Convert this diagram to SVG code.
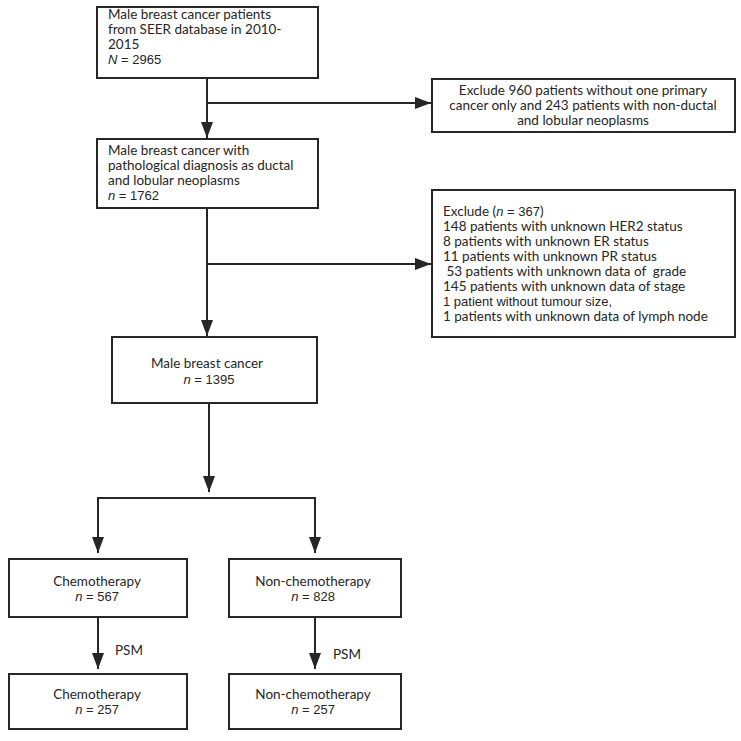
<svg xmlns="http://www.w3.org/2000/svg" width="741" height="741" viewBox="0 0 741 741">
<defs>
<marker id="ar" markerWidth="16" markerHeight="12" refX="16" refY="6" orient="auto" markerUnits="userSpaceOnUse" viewBox="0 0 16 12">
<path d="M0,0 L16,6 L0,12 Z" fill="#262626"/>
</marker>
</defs>
<style>
.box{fill:#fff;stroke:#262626;stroke-width:2}
.ln{fill:none;stroke:#262626;stroke-width:2}
text{font-family:Lato,"Noto Sans",sans-serif;font-size:13.5px;fill:#262626;white-space:pre}
.a{font-family:"Liberation Sans",Arial,sans-serif;font-size:13px}
.i{font-family:"Liberation Sans",Arial,sans-serif;font-size:13px;font-style:italic}
.c{text-anchor:middle}
</style>
<rect width="741" height="741" fill="#fff"/>
<g id="connectors">
<path class="ln" d="M207,78 V138" marker-end="url(#ar)"/>
<path class="ln" d="M207,103 H431" marker-end="url(#ar)"/>
<path class="ln" d="M207,208 V336" marker-end="url(#ar)"/>
<path class="ln" d="M207,264 H431" marker-end="url(#ar)"/>
<path class="ln" d="M209,403 V492" marker-end="url(#ar)"/>
<path class="ln" d="M98,498 H315"/>
<path class="ln" d="M98,497 V553" marker-end="url(#ar)"/>
<path class="ln" d="M315,497 V553" marker-end="url(#ar)"/>
<path class="ln" d="M98,617 V669" marker-end="url(#ar)"/>
<path class="ln" d="M315,617 V669" marker-end="url(#ar)"/>
<text x="115" y="655">PSM</text>
<text x="333" y="659">PSM</text>
</g>
<g id="n1">
<rect class="box" x="97" y="7" width="221" height="71"/>
<text x="108" y="19">Male breast cancer patients</text>
<text x="108" y="34">from SEER database in 2010-</text>
<text x="108" y="49">2015</text>
<text class="a" x="108" y="64"><tspan class="i">N</tspan> = 2965</text>
</g>
<g id="ex1">
<rect class="box" x="432" y="79" width="303" height="53"/>
<text class="c" x="583" y="95">Exclude 960 patients without one primary</text>
<text class="c" x="583" y="110">cancer only and 243 patients with non-ductal</text>
<text class="c" x="583" y="125">and lobular neoplasms</text>
</g>
<g id="n2">
<rect class="box" x="97" y="139" width="221" height="69"/>
<text x="108" y="155">Male breast cancer with</text>
<text x="108" y="170">pathological diagnosis as ductal</text>
<text x="108" y="185">and lobular neoplasms</text>
<text class="a" x="108" y="200"><tspan class="i">n</tspan> = 1762</text>
</g>
<g id="ex2">
<rect class="box" x="432" y="190" width="303" height="147"/>
<text x="443" y="216">Exclude (<tspan class="i">n</tspan><tspan class="a"> = 367</tspan>)</text>
<text x="443" y="231">148 patients with unknown HER2 status</text>
<text x="443" y="246">8 patients with unknown ER status</text>
<text x="443" y="261">11 patients with unknown PR status</text>
<text x="443" y="276"> 53 patients with unknown data of  grade</text>
<text x="443" y="291">145 patients with unknown data of stage</text>
<text class="a" x="443" y="306">1 patient without tumour size,</text>
<text x="443" y="321">1 patients with unknown data of lymph node</text>
</g>
<g id="n3">
<rect class="box" x="112" y="337" width="205" height="66"/>
<text class="c" x="207" y="368">Male breast cancer</text>
<text class="a c" x="209" y="384"><tspan class="i">n</tspan> = 1395</text>
</g>
<g id="chemo1">
<rect class="box" x="9" y="559" width="178" height="58"/>
<text class="c" x="97" y="586">Chemotherapy</text>
<text class="a c" x="97" y="601"><tspan class="i">n</tspan> = 567</text>
</g>
<g id="nonchemo1">
<rect class="box" x="229" y="559" width="172" height="58"/>
<text class="c" x="313" y="586">Non-chemotherapy</text>
<text class="a c" x="313" y="601"><tspan class="i">n</tspan> = 828</text>
</g>
<g id="chemo2">
<rect class="box" x="9" y="674" width="178" height="55"/>
<text class="c" x="97" y="699">Chemotherapy</text>
<text class="a c" x="97" y="714"><tspan class="i">n</tspan> = 257</text>
</g>
<g id="nonchemo2">
<rect class="box" x="229" y="674" width="172" height="55"/>
<text class="c" x="313" y="699">Non-chemotherapy</text>
<text class="a c" x="313" y="714"><tspan class="i">n</tspan> = 257</text>
</g>
</svg>
